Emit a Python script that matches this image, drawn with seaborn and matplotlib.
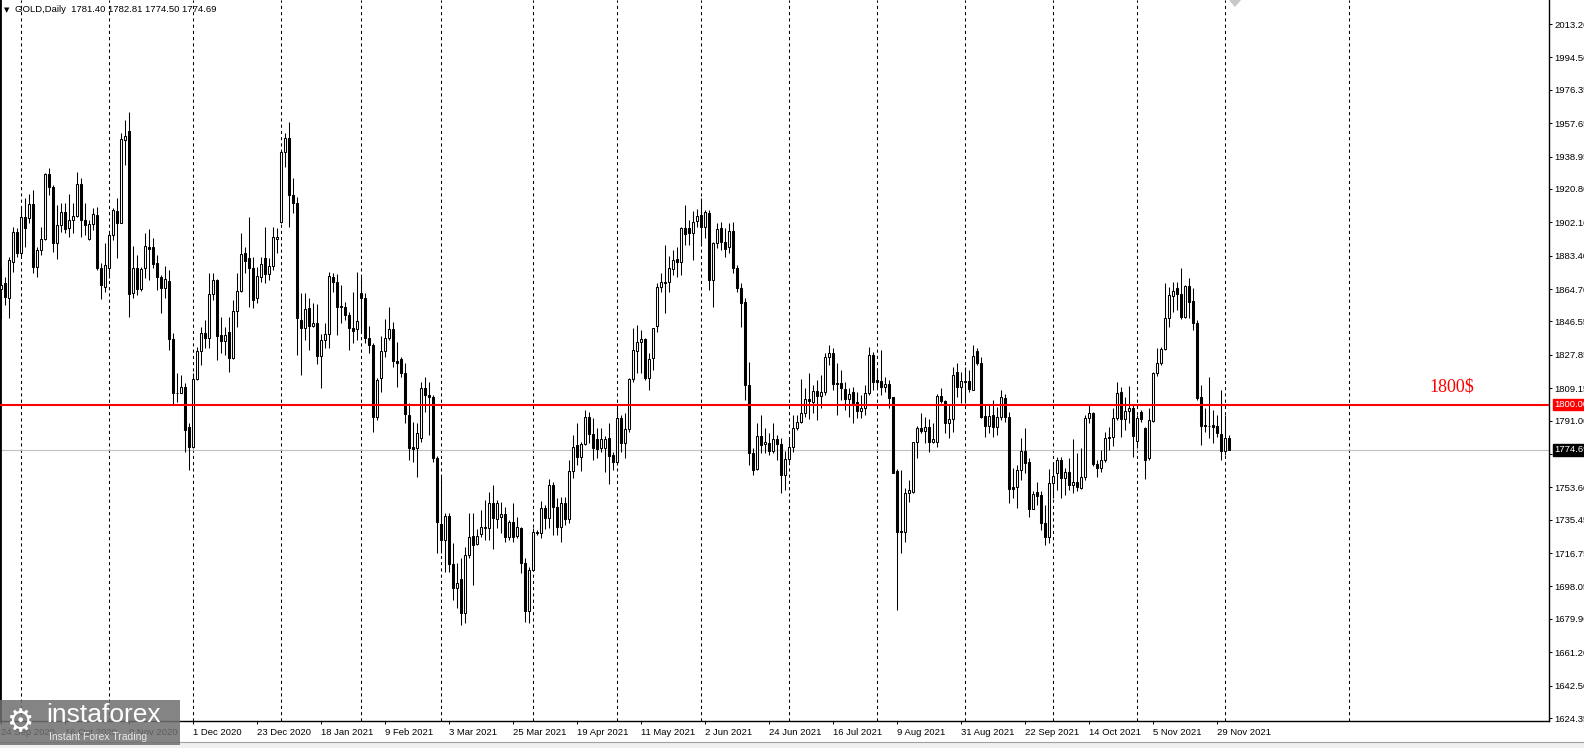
import numpy as np
import pandas as pd
import matplotlib
matplotlib.use("Agg")
import matplotlib.pyplot as plt
from matplotlib.patches import Rectangle, Polygon
import seaborn as sns

# daily GOLD bars, 24 Sep 2020 .. 2 Dec 2021 (the feed skips Xmas, New Year, Good Friday)
holidays = ["2020-12-25", "2021-01-01", "2021-04-02"]
dates = pd.bdate_range("2020-09-24", "2021-12-02").drop(pd.to_datetime(holidays))

opens = [
    1864.5, 1867.9, 1859.5, 1880.0, 1896.8, 1884.7, 1904.8, 1904.3, 1912.3, 1877.2,
    1886.5, 1892.5, 1929.1, 1921.7, 1890.3, 1900.4, 1907.6, 1898.7, 1903.4, 1905.6,
    1923.5, 1903.4, 1892.5, 1901.1, 1906.0, 1876.3, 1865.9, 1876.3, 1894.9, 1908.4,
    1901.9, 1948.2, 1953.2, 1862.3, 1876.3, 1864.5, 1876.3, 1888.4, 1888.4, 1879.1,
    1871.2, 1865.1, 1869.2, 1836.5, 1806.6, 1806.6, 1809.6, 1787.2, 1776.3, 1814.1,
    1829.9, 1839.9, 1837.4, 1861.7, 1869.7, 1838.9, 1835.7, 1840.8, 1826.2, 1852.4,
    1863.6, 1884.7, 1881.9, 1876.3, 1859.5, 1871.6, 1881.9, 1872.9, 1877.6, 1892.5,
    1902.4, 1941.7, 1949.1, 1917.4, 1913.1, 1847.3, 1842.7, 1853.9, 1844.0, 1845.5,
    1827.2, 1836.1, 1839.3, 1871.2, 1868.8, 1855.2, 1854.8, 1850.1, 1842.7, 1842.1,
    1862.3, 1859.5, 1837.1, 1833.3, 1793.2, 1815.0, 1830.0, 1837.1, 1842.1, 1824.5,
    1825.3, 1817.8, 1794.1, 1776.0, 1775.4, 1781.0, 1809.0, 1805.3, 1804.0, 1769.8,
    1733.0, 1724.1, 1737.5, 1710.6, 1697.0, 1702.0, 1683.0, 1715.7, 1726.3, 1721.8,
    1727.4, 1731.2, 1730.6, 1745.0, 1735.6, 1737.2, 1738.5, 1726.0, 1734.0, 1726.5,
    1731.0, 1711.4, 1684.3, 1707.3, 1728.8, 1727.8, 1742.2, 1736.6, 1754.9, 1742.8,
    1731.6, 1744.6, 1735.9, 1762.9, 1777.3, 1770.4, 1777.7, 1792.8, 1783.3, 1780.5,
    1775.8, 1775.8, 1781.1, 1771.7, 1768.0, 1792.3, 1778.3, 1786.1, 1814.1, 1830.0,
    1834.8, 1836.5, 1814.7, 1825.9, 1844.2, 1865.7, 1868.5, 1868.5, 1876.0, 1881.5,
    1879.7, 1898.7, 1898.7, 1895.9, 1902.8, 1906.2, 1899.3, 1907.1, 1869.8, 1890.3,
    1898.7, 1891.3, 1888.1, 1897.4, 1876.7, 1865.1, 1857.3, 1811.0, 1772.6, 1763.7,
    1782.4, 1777.9, 1778.2, 1774.1, 1780.7, 1777.9, 1760.5, 1769.3, 1776.0, 1786.7,
    1790.4, 1795.0, 1802.9, 1801.6, 1807.6, 1804.8, 1807.0, 1826.4, 1828.7, 1812.2,
    1812.2, 1808.7, 1802.9, 1807.2, 1801.4, 1796.5, 1797.9, 1806.3, 1827.7, 1813.7,
    1813.4, 1809.6, 1811.5, 1804.0, 1762.7, 1729.1, 1728.6, 1750.6, 1751.2, 1779.0,
    1787.0, 1785.4, 1787.6, 1779.2, 1778.8, 1804.8, 1802.1, 1789.8, 1791.7, 1818.0,
    1809.6, 1813.2, 1813.2, 1808.1, 1830.0, 1823.1, 1793.6, 1788.0, 1794.1, 1787.6,
    1793.2, 1803.5, 1792.8, 1753.6, 1753.6, 1763.3, 1774.0, 1767.8, 1741.7, 1750.8,
    1749.3, 1733.4, 1725.6, 1755.9, 1761.5, 1768.9, 1759.0, 1762.0, 1754.7, 1756.8,
    1753.1, 1759.2, 1792.3, 1795.5, 1766.5, 1764.3, 1768.9, 1781.1, 1782.0, 1792.3,
    1807.2, 1791.7, 1796.4, 1797.9, 1779.8, 1795.6, 1786.7, 1769.9, 1791.0, 1817.5,
    1823.1, 1831.1, 1848.3, 1861.0, 1865.5, 1861.8, 1849.2, 1866.4, 1858.0, 1845.9,
    1804.4, 1788.6, 1787.8, 1788.6, 1788.2, 1783.5, 1774.0, 1781.40,
]
highs = [
    1876.5, 1871.6, 1882.8, 1899.6, 1898.7, 1911.2, 1915.9, 1917.7, 1920.2, 1888.4,
    1899.6, 1929.9, 1932.3, 1923.0, 1911.8, 1913.0, 1912.7, 1917.7, 1912.7, 1930.4,
    1926.7, 1913.0, 1903.4, 1909.9, 1910.5, 1879.1, 1890.3, 1895.9, 1909.9, 1915.5,
    1951.9, 1959.4, 1964.1, 1889.0, 1883.7, 1877.2, 1895.9, 1898.1, 1893.1, 1883.7,
    1872.5, 1877.8, 1875.3, 1839.9, 1817.4, 1816.5, 1811.8, 1789.4, 1817.4, 1832.4,
    1843.6, 1847.3, 1873.5, 1873.8, 1870.1, 1849.2, 1843.6, 1849.2, 1858.5, 1873.8,
    1895.9, 1888.4, 1905.2, 1882.8, 1877.2, 1882.8, 1899.6, 1881.9, 1899.6, 1898.7,
    1942.6, 1951.9, 1958.5, 1926.7, 1916.4, 1862.6, 1862.6, 1859.5, 1856.7, 1856.1,
    1839.5, 1845.5, 1874.4, 1873.9, 1873.1, 1866.9, 1857.6, 1852.0, 1863.2, 1874.4,
    1871.6, 1862.6, 1844.0, 1834.3, 1814.7, 1838.4, 1847.7, 1854.4, 1846.4, 1835.2,
    1826.4, 1823.4, 1800.6, 1790.4, 1789.4, 1812.8, 1815.6, 1812.8, 1805.3, 1771.0,
    1760.5, 1739.0, 1739.0, 1722.2, 1711.0, 1713.8, 1720.3, 1739.0, 1739.0, 1730.0,
    1740.9, 1746.5, 1751.2, 1754.9, 1746.5, 1745.6, 1742.8, 1735.3, 1744.6, 1737.2,
    1731.6, 1713.8, 1709.1, 1730.6, 1729.7, 1745.9, 1743.7, 1758.3, 1756.8, 1747.4,
    1748.4, 1748.4, 1768.9, 1782.9, 1789.5, 1779.2, 1796.9, 1796.0, 1792.6, 1786.7,
    1786.7, 1782.5, 1789.5, 1773.6, 1797.9, 1794.1, 1795.1, 1814.7, 1842.7, 1844.6,
    1841.8, 1837.1, 1828.7, 1843.1, 1867.9, 1873.5, 1889.4, 1883.4, 1886.6, 1888.4,
    1899.7, 1911.8, 1903.4, 1908.4, 1909.6, 1915.5, 1909.0, 1909.0, 1891.0, 1901.5,
    1902.5, 1898.7, 1901.5, 1902.5, 1878.2, 1867.9, 1859.5, 1824.0, 1775.4, 1789.5,
    1794.1, 1786.7, 1783.9, 1789.5, 1782.9, 1781.0, 1774.0, 1781.0, 1794.1, 1794.1,
    1814.1, 1809.1, 1817.8, 1810.9, 1813.7, 1816.5, 1829.1, 1833.3, 1831.5, 1823.1,
    1819.3, 1812.8, 1809.1, 1810.0, 1807.2, 1805.3, 1810.9, 1832.4, 1829.6, 1820.3,
    1830.5, 1815.6, 1813.7, 1804.4, 1763.7, 1763.3, 1753.0, 1757.7, 1779.2, 1788.0,
    1795.1, 1792.8, 1791.7, 1789.5, 1805.9, 1809.1, 1802.5, 1799.7, 1821.2, 1823.1,
    1818.4, 1821.2, 1819.3, 1833.3, 1831.5, 1826.8, 1799.7, 1799.7, 1802.5, 1798.8,
    1808.2, 1805.9, 1796.0, 1764.3, 1766.1, 1781.1, 1786.7, 1769.9, 1751.8, 1756.8,
    1751.8, 1743.7, 1763.7, 1768.0, 1770.8, 1770.8, 1764.3, 1769.9, 1780.5, 1772.7,
    1775.5, 1794.0, 1799.8, 1796.0, 1768.9, 1774.5, 1784.8, 1787.6, 1797.9, 1812.8,
    1810.0, 1804.4, 1810.4, 1799.8, 1794.2, 1797.0, 1787.6, 1797.9, 1818.4, 1831.5,
    1832.4, 1867.9, 1866.1, 1868.9, 1868.5, 1876.3, 1867.0, 1870.7, 1865.1, 1847.4,
    1811.0, 1797.9, 1815.6, 1797.0, 1794.2, 1808.2, 1794.2, 1782.81,
]
lows = [
    1848.4, 1855.7, 1848.2, 1874.4, 1882.8, 1882.8, 1888.4, 1901.5, 1873.5, 1871.6,
    1883.7, 1892.1, 1917.4, 1885.6, 1881.3, 1896.8, 1896.3, 1894.0, 1895.9, 1905.2,
    1894.0, 1895.0, 1892.1, 1897.8, 1875.3, 1858.9, 1863.2, 1870.7, 1892.1, 1881.9,
    1901.5, 1934.2, 1849.2, 1859.5, 1861.3, 1863.8, 1870.7, 1869.7, 1876.3, 1864.1,
    1851.4, 1859.5, 1830.5, 1799.7, 1801.6, 1806.2, 1773.5, 1763.3, 1775.4, 1813.7,
    1822.1, 1831.4, 1831.4, 1858.5, 1824.9, 1828.6, 1827.7, 1818.4, 1825.3, 1843.6,
    1863.2, 1873.5, 1854.8, 1853.9, 1856.7, 1868.8, 1868.3, 1869.7, 1875.4, 1884.7,
    1901.5, 1933.3, 1899.6, 1907.1, 1827.7, 1816.5, 1836.1, 1830.5, 1843.6, 1822.7,
    1809.0, 1831.5, 1831.5, 1863.2, 1838.9, 1845.8, 1847.3, 1830.5, 1834.3, 1836.1,
    1840.8, 1834.3, 1828.7, 1784.8, 1791.3, 1807.2, 1826.8, 1836.1, 1821.2, 1810.0,
    1815.6, 1789.4, 1768.9, 1768.0, 1759.6, 1779.2, 1796.0, 1782.9, 1768.0, 1717.0,
    1716.6, 1706.3, 1706.3, 1690.4, 1686.0, 1676.4, 1677.4, 1713.8, 1698.9, 1721.3,
    1725.9, 1724.1, 1724.1, 1718.8, 1730.6, 1727.8, 1723.2, 1724.1, 1723.2, 1725.0,
    1705.4, 1678.3, 1677.4, 1706.7, 1726.9, 1725.4, 1730.3, 1730.6, 1726.9, 1726.9,
    1723.2, 1732.5, 1733.4, 1759.0, 1766.1, 1762.8, 1777.3, 1778.3, 1768.9, 1769.9,
    1773.6, 1762.4, 1755.3, 1763.3, 1766.1, 1773.6, 1769.9, 1784.4, 1812.8, 1817.5,
    1817.5, 1813.7, 1808.1, 1819.3, 1840.8, 1863.2, 1851.1, 1863.2, 1872.6, 1871.6,
    1872.6, 1889.4, 1889.4, 1881.0, 1899.7, 1890.3, 1893.1, 1864.2, 1854.8, 1887.5,
    1886.6, 1882.8, 1884.7, 1873.5, 1863.2, 1843.6, 1802.5, 1766.1, 1760.5, 1763.3,
    1772.6, 1772.6, 1771.7, 1772.6, 1768.9, 1750.2, 1752.1, 1767.0, 1773.6, 1785.7,
    1789.5, 1793.2, 1791.7, 1795.0, 1791.3, 1797.9, 1805.3, 1822.1, 1808.1, 1794.1,
    1802.5, 1797.0, 1793.2, 1789.5, 1792.3, 1792.3, 1794.1, 1805.3, 1808.1, 1810.0,
    1805.3, 1807.2, 1797.9, 1761.4, 1684.9, 1717.0, 1723.2, 1745.6, 1750.2, 1769.8,
    1783.9, 1778.2, 1773.6, 1778.2, 1776.4, 1800.7, 1783.9, 1781.0, 1784.8, 1804.4,
    1800.7, 1800.7, 1807.2, 1808.1, 1822.1, 1792.3, 1782.0, 1783.9, 1782.0, 1782.9,
    1791.3, 1790.4, 1744.7, 1747.5, 1741.9, 1757.7, 1761.5, 1737.2, 1741.3, 1743.7,
    1729.7, 1721.3, 1722.2, 1747.5, 1752.1, 1747.5, 1749.3, 1752.1, 1750.6, 1751.8,
    1752.5, 1757.7, 1789.5, 1765.6, 1759.6, 1762.4, 1768.0, 1774.5, 1776.8, 1791.3,
    1782.0, 1785.7, 1789.5, 1770.8, 1775.5, 1790.4, 1758.1, 1768.9, 1790.4, 1816.0,
    1822.2, 1830.6, 1843.6, 1852.0, 1853.0, 1848.0, 1848.7, 1848.3, 1841.8, 1802.5,
    1777.3, 1784.8, 1781.1, 1778.6, 1782.0, 1768.9, 1771.7, 1774.50,
]
closes = [
    1866.9, 1860.4, 1880.9, 1896.8, 1884.7, 1904.8, 1898.7, 1912.3, 1876.8, 1886.5,
    1892.5, 1929.1, 1921.7, 1890.3, 1900.4, 1907.6, 1898.1, 1903.4, 1905.6, 1923.5,
    1903.4, 1900.4, 1901.1, 1906.5, 1876.3, 1866.9, 1878.1, 1894.9, 1908.9, 1901.9,
    1948.6, 1950.4, 1861.7, 1876.3, 1864.5, 1875.7, 1888.8, 1887.3, 1878.7, 1871.2,
    1865.1, 1870.1, 1836.5, 1806.6, 1806.4, 1809.6, 1785.7, 1776.0, 1814.1, 1829.9,
    1839.9, 1837.4, 1861.9, 1869.7, 1838.5, 1835.7, 1838.9, 1826.2, 1852.4, 1863.6,
    1884.3, 1880.4, 1876.6, 1858.5, 1872.0, 1878.5, 1872.9, 1877.6, 1893.7, 1894.0,
    1941.7, 1949.1, 1917.4, 1913.1, 1848.3, 1842.7, 1853.3, 1844.0, 1845.5, 1827.4,
    1836.1, 1839.3, 1872.0, 1868.8, 1854.8, 1854.4, 1850.1, 1842.7, 1841.4, 1846.8,
    1859.5, 1837.1, 1833.3, 1793.2, 1813.7, 1830.0, 1837.1, 1842.1, 1824.5, 1823.4,
    1817.5, 1794.7, 1775.4, 1774.9, 1783.8, 1809.0, 1805.3, 1804.0, 1769.8, 1734.3,
    1724.1, 1737.5, 1710.6, 1697.0, 1699.8, 1683.0, 1715.7, 1725.9, 1721.3, 1726.3,
    1731.5, 1731.0, 1744.6, 1736.2, 1744.6, 1738.5, 1726.0, 1734.0, 1726.0, 1731.6,
    1711.4, 1684.3, 1707.3, 1728.8, 1727.8, 1742.2, 1736.6, 1754.9, 1742.8, 1731.6,
    1744.6, 1735.9, 1762.9, 1776.0, 1770.8, 1777.7, 1792.8, 1783.3, 1775.8, 1774.9,
    1780.5, 1780.5, 1771.2, 1768.0, 1792.3, 1778.3, 1786.1, 1814.1, 1830.6, 1835.2,
    1836.5, 1814.7, 1825.3, 1842.7, 1865.7, 1868.5, 1867.9, 1876.7, 1881.0, 1879.7,
    1898.7, 1895.4, 1895.9, 1902.5, 1905.6, 1899.3, 1908.1, 1869.8, 1890.3, 1898.2,
    1891.3, 1887.1, 1897.4, 1876.3, 1865.1, 1856.7, 1811.0, 1772.7, 1763.3, 1782.4,
    1777.3, 1779.0, 1774.1, 1780.7, 1777.9, 1760.5, 1769.3, 1776.0, 1786.7, 1790.0,
    1795.0, 1802.9, 1802.1, 1807.6, 1804.8, 1807.0, 1826.8, 1828.7, 1811.3, 1811.5,
    1809.4, 1802.9, 1805.9, 1801.0, 1796.5, 1798.2, 1806.6, 1827.7, 1812.8, 1812.8,
    1809.6, 1811.5, 1803.5, 1761.8, 1728.8, 1728.6, 1750.6, 1752.1, 1779.0, 1787.0,
    1785.4, 1787.2, 1779.2, 1780.7, 1804.8, 1802.1, 1789.8, 1791.9, 1816.5, 1809.6,
    1813.2, 1812.6, 1808.5, 1827.2, 1823.1, 1793.2, 1788.0, 1793.6, 1787.6, 1792.8,
    1804.4, 1792.8, 1752.5, 1752.9, 1763.3, 1774.0, 1767.4, 1741.7, 1749.9, 1748.9,
    1733.4, 1725.6, 1755.9, 1760.0, 1768.9, 1759.0, 1762.4, 1754.7, 1756.4, 1753.6,
    1759.2, 1792.3, 1795.1, 1766.5, 1764.3, 1768.9, 1781.1, 1782.0, 1792.3, 1806.7,
    1791.7, 1796.4, 1797.9, 1782.6, 1792.3, 1791.9, 1768.9, 1791.3, 1817.5, 1823.1,
    1831.1, 1848.3, 1861.4, 1863.6, 1861.8, 1849.2, 1866.4, 1857.6, 1845.5, 1803.5,
    1788.2, 1788.0, 1788.2, 1787.6, 1783.9, 1774.0, 1781.1, 1774.69,
]

level = 1800.00
last_price = 1774.69
header = "GOLD,Daily  1781.40 1782.81 1774.50 1774.69"
price_ticks = [2013.20, 1994.50, 1976.35, 1957.65, 1938.95, 1920.80, 1902.10,
               1883.40, 1864.70, 1846.55, 1827.85, 1809.15, 1791.00, 1772.30,
               1753.60, 1735.45, 1716.75, 1698.05, 1679.90, 1661.20, 1642.50, 1624.35]

n = min(len(dates), len(opens))
df = pd.DataFrame({"date": dates[:n], "open": opens[:n], "high": highs[:n],
                   "low": lows[:n], "close": closes[:n]})
df["idx"] = np.arange(n)
df["high"] = df[["high", "open", "close"]].max(axis=1)
df["low"] = df[["low", "open", "close"]].min(axis=1)
bull = df["close"] >= df["open"]

sns.set_theme(style="white")
plt.rcParams["font.family"] = ["Liberation Sans", "DejaVu Sans"]

W, H = 1584, 748
fig = plt.figure(figsize=(W / 100, H / 100), dpi=100)
fig.patch.set_facecolor("white")
ax = fig.add_axes([0, 27 / H, 1549 / W, 721 / H])
ax.set_facecolor("white")

# month separators (dotted), plus the one MT4 draws in the empty future area
month_start = df.index[df["date"].dt.month != df["date"].shift(1).dt.month][1:]
for i in list(month_start) + [337]:
    ax.axvline(i, color="black", lw=0.75, ls=(0, (3, 3)), zorder=1)

ax.axhline(last_price, color="#c0c0c0", lw=0.8, zorder=1.5)
ax.axhline(level, color="#ff0000", lw=1.5, zorder=4)

# candles: wicks then bodies
ax.vlines(df["idx"], df["low"], df["high"], color="black", lw=0.75, zorder=2)
body_lo = np.minimum(df["open"], df["close"])
body_h = (df["close"] - df["open"]).abs()
ax.bar(df["idx"], body_h, bottom=body_lo, width=0.5,
       color=np.where(bull, "white", "black"), edgecolor="black",
       linewidth=0.75, zorder=3)

ax.set_xlim(-0.325, 386.9)
ax.set_ylim(1622.67, 2026.65)

tick_idx = df["idx"][::16]
tick_lab = [f"{d.day} {d.strftime('%b %Y')}" for d in df["date"][::16]]
ax.set_xticks(tick_idx)
ax.set_xticklabels(tick_lab, ha="left")
ax.yaxis.tick_right()
ax.set_yticks(price_ticks)
ax.set_yticklabels([f"{v:.2f}" for v in price_ticks])
ax.tick_params(axis="x", direction="out", length=2.5, width=0.75, pad=2.5,
               labelsize=6.8, colors="black", bottom=True)
ax.tick_params(axis="y", direction="out", length=2.5, width=0.75, pad=1.5,
               labelsize=6.8, colors="black", right=True, left=False)
for s in ["left", "right", "bottom"]:
    ax.spines[s].set_color("black")
    ax.spines[s].set_linewidth(1.0)
ax.spines["left"].set_linewidth(2.0)
ax.spines["top"].set_visible(False)
ax.grid(False)

# price tags on the scale
for val, bg in [(level, "#ff0000"), (last_price, "black")]:
    ax.annotate(f"{val:.2f}", xy=(1, val), xycoords=("axes fraction", "data"),
                xytext=(4, 0), textcoords="offset points", ha="left", va="center",
                fontsize=6.8, color="white", annotation_clip=False, zorder=10,
                bbox=dict(boxstyle="square,pad=0.15", fc=bg, ec=bg))

ax.text(362.7, 1809.8, "1800$", color="#ff0000", fontsize=13,
        family=["Liberation Serif", "DejaVu Serif"], ha="center", va="center")

# header
fig.text(4 / W, 1 - 10 / H, "\u25bc", fontsize=5, color="black", va="center",
         family=["DejaVu Sans"])
fig.text(15 / W, 1 - 10 / H, header, fontsize=6.8, color="black", va="center")

# chart shift marker
fig.patches.append(Polygon([[1229 / W, 1], [1241 / W, 1], [1235 / W, 1 - 7 / H]],
                           closed=True, transform=fig.transFigure,
                           fc="#c8c8c8", ec="none"))

# bottom tab strip
fig.patches.append(Rectangle((0, 0), 1, 6 / H, transform=fig.transFigure,
                             fc="#f0f0f0", ec="none"))
fig.lines.append(plt.Line2D([0, 1], [6 / H, 6 / H], transform=fig.transFigure,
                            color="#a0a0a0", lw=0.8))

# watermark
fig.patches.append(Rectangle((0, 3 / H), 180 / W, 45 / H, transform=fig.transFigure,
                             fc="#6f6f6f", ec="none", alpha=0.85, zorder=20))
fig.text(6 / W, 25 / H, "\u2699", fontsize=22, color="white", va="center",
         family=["DejaVu Sans"], zorder=21)
fig.text(46 / W, 33 / H, "instaforex", fontsize=19, color="white", va="center",
         zorder=21)
fig.text(49 / W, 11 / H, "Instant Forex Trading", fontsize=7.5, color="#e8e8e8",
         va="center", zorder=21)

fig.savefig("out.png", dpi=100)
